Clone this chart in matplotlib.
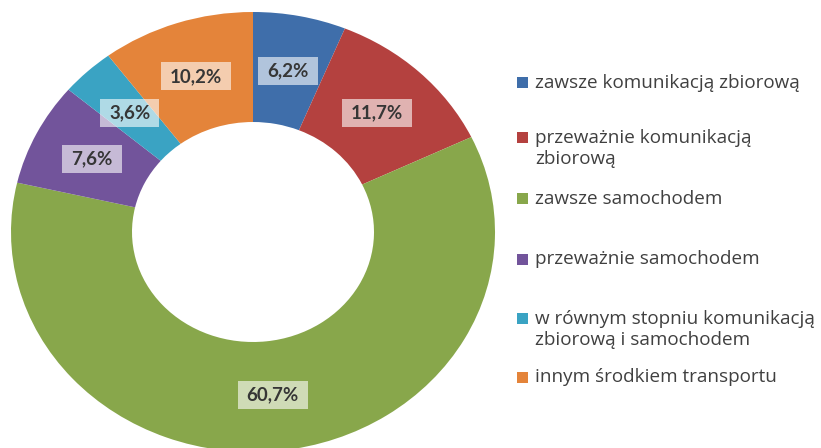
import matplotlib
matplotlib.use("Agg")
import numpy as np
import matplotlib.pyplot as plt
from matplotlib.patches import Rectangle

# Share of respondents by mode of travel (%)
categories = [
    "zawsze komunikacją zbiorową",
    "przeważnie komunikacją\nzbiorową",
    "zawsze samochodem",
    "przeważnie samochodem",
    "w równym stopniu komunikacją\nzbiorową i samochodem",
    "innym środkiem transportu",
]
values = [6.2, 11.7, 60.7, 7.6, 3.6, 10.2]
colors = ["#3F6EAA", "#B4413F", "#88A74B", "#72549B", "#3AA3C3", "#E4843A"]

W, H, DPI = 821, 448, 100
fig = plt.figure(figsize=(W / DPI, H / DPI), dpi=DPI)
fig.patch.set_facecolor("white")

# Donut area in pixels (left, top, right, bottom); the ring is slightly squashed vertically
x0, y0, x1, y1 = 11, 12, 495, 452
ax = fig.add_axes([x0 / W, 1 - y1 / H, (x1 - x0) / W, (y1 - y0) / H])

wedges, _ = ax.pie(
    values,
    colors=colors,
    startangle=90,
    counterclock=False,
    radius=1.0,
    wedgeprops=dict(width=0.5, edgecolor="none", linewidth=0),
)
ax.set_aspect("auto")
ax.set_xlim(-1, 1)
ax.set_ylim(-1, 1)
ax.axis("off")

# Value labels with light, semi-transparent boxes
label_font = ["Lato", "DejaVu Sans"]
label_size = 13.5
texts = []
for w, v in zip(wedges, values):
    mid = np.deg2rad((w.theta1 + w.theta2) / 2)
    r = 0.745
    t = ax.text(
        r * np.cos(mid), r * np.sin(mid),
        f"{v:.1f}%".replace(".", ","),
        ha="center", va="center",
        fontsize=label_size, fontweight="bold", color="#363636",
        family=label_font,
    )
    texts.append(t)

fig.canvas.draw()
renderer = fig.canvas.get_renderer()
pad_x, box_h = 9, 28
for t in texts:
    bb = t.get_window_extent(renderer)
    cx, cy = (bb.x0 + bb.x1) / 2, (bb.y0 + bb.y1) / 2
    bw = bb.width + 2 * pad_x
    fig.patches.append(Rectangle(((cx - bw / 2) / W, (cy - box_h / 2) / H),
                                 bw / W, box_h / H, transform=fig.transFigure,
                                 facecolor="white", alpha=0.6,
                                 edgecolor="none", zorder=4))
    t.remove()
    fig.text(cx / W, cy / H, t.get_text(), ha="center", va="center",
             fontsize=label_size, fontweight="bold", color="#363636",
             family=label_font, zorder=6)

# Legend drawn entry by entry
legend_y = [83, 138, 199, 259, 319, 377]
sq_x, sq_size, text_x = 517, 11, 535
line_gap = 21
for lab, col, yc in zip(categories, colors, legend_y):
    fig.patches.append(Rectangle((sq_x / W, 1 - (yc + sq_size / 2) / H),
                                 sq_size / W, sq_size / H,
                                 transform=fig.transFigure, facecolor=col,
                                 edgecolor="none"))
    for i, line in enumerate(lab.split("\n")):
        fig.text(text_x / W, 1 - (yc + i * line_gap) / H, line,
                 ha="left", va="center", fontsize=13.6, color="#404040",
                 family=["Open Sans", "DejaVu Sans"])

fig.savefig("out.png", dpi=DPI, facecolor="white")
